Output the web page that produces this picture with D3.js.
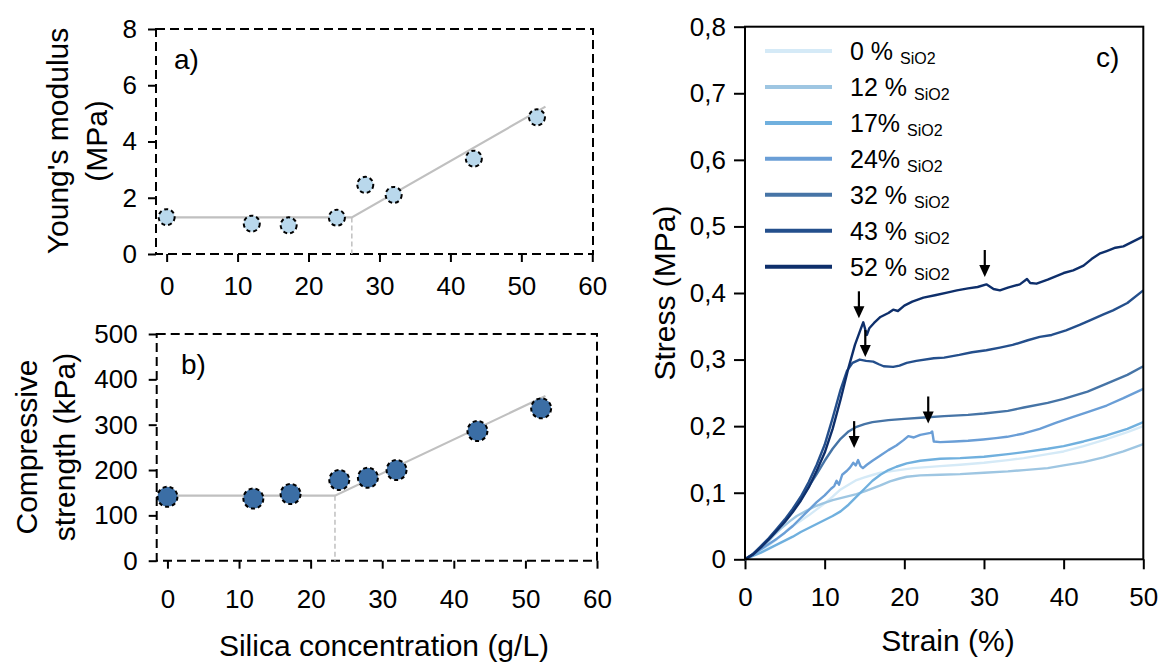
<!DOCTYPE html>
<html>
<head>
<meta charset="utf-8">
<script src="https://cdn.jsdelivr.net/npm/d3@7"></script>
<style>
  html, body { margin: 0; padding: 0; background: #fff; }
  svg text { font-family: "Liberation Sans", Arial, sans-serif; fill: #000; }
</style>
</head>
<body>
<svg id="chart" width="1161" height="662"></svg>
<script>
// ---------- DATA ----------
const silica = [0, 12, 17.2, 24, 28, 32, 43.3, 52.2];
const youngsModulus = [1.31, 1.08, 1.02, 1.29, 2.46, 2.10, 3.39, 4.86];
const compStrength = [141, 137, 147, 178, 183, 200, 286, 336];
const fitA = [[0, 1.30], [26.1, 1.30], [53.4, 5.24]];
const fitB = [[0, 143.5], [23.4, 143.5], [52.8, 363]];
const breakA = 26.1, breakB = 23.4;

const ticksA_y = [0, 2, 4, 6, 8];
const ticksB_y = [0, 100, 200, 300, 400, 500];
const ticksAB_x = [0, 10, 20, 30, 40, 50, 60];
const ticksC_y = [0, 0.1, 0.2, 0.3, 0.4, 0.5, 0.6, 0.7, 0.8];
const ticksC_x = [0, 10, 20, 30, 40, 50];

const seriesNames = ["0 %", "12 %", "17%", "24%", "32 %", "43 %", "52 %"];
const seriesColors = ["#d5eaf7", "#9ec6e2", "#70b0de", "#6a9ed6", "#4674a6", "#244f8c", "#0e2f6b"];

const s0 = [[0,0],[1,0.006],[2,0.013],[3,0.021],[4,0.03],[5,0.04],[5.6,0.047],[7,0.058],[8,0.066],[9,0.075],[10,0.084],[11,0.094],[11.9,0.104],[13,0.112],[14,0.119],[15,0.123],[16.1,0.127],[17,0.13],[18.2,0.132],[20,0.135],[21.1,0.137],[24.5,0.140],[27,0.142],[30,0.145],[33,0.149],[35,0.152],[38,0.158],[40,0.162],[42.5,0.170],[45,0.179],[48,0.191],[50,0.200]];
const s12 = [[0,0],[1,0.007],[2,0.016],[3,0.028],[3.6,0.036],[4.5,0.046],[5.6,0.057],[6.5,0.065],[7.7,0.073],[8.7,0.079],[9.8,0.084],[11,0.089],[12,0.092],[13,0.095],[14,0.098],[15,0.102],[16.1,0.107],[17,0.111],[18.2,0.117],[19.3,0.121],[20.3,0.124],[22,0.126],[24.5,0.127],[27,0.128],[30,0.130],[33,0.132],[35,0.134],[38,0.137],[40,0.141],[42.5,0.146],[45,0.153],[47.5,0.162],[50,0.173]];
const s17 = [[0,0],[1,0.005],[2,0.01],[3,0.016],[4,0.022],[5,0.028],[6,0.034],[7,0.041],[8,0.047],[9,0.053],[10,0.059],[11,0.065],[12,0.072],[13,0.082],[14,0.094],[15,0.106],[16,0.118],[17,0.127],[18,0.134],[19,0.139],[20.3,0.144],[22,0.148],[24.5,0.151],[27,0.152],[30,0.154],[33,0.158],[35,0.161],[38,0.166],[40,0.170],[42.5,0.177],[45.4,0.186],[48,0.196],[50,0.206]];
const s24 = [[0,0],[1,0.007],[2,0.015],[3,0.023],[4,0.031],[5,0.04],[6,0.05],[7,0.062],[8,0.074],[9,0.086],[10,0.096],[10.8,0.106],[11.2,0.110],[11.5,0.118],[11.8,0.112],[12.2,0.127],[12.8,0.133],[13.2,0.138],[13.6,0.145],[13.9,0.141],[14.2,0.149],[14.5,0.140],[14.8,0.137],[15.3,0.142],[16,0.148],[16.9,0.155],[18,0.164],[19,0.171],[19.9,0.179],[20.5,0.185],[21.2,0.183],[22,0.187],[23.3,0.190],[23.5,0.192],[23.7,0.177],[24.5,0.176],[26.3,0.177],[28,0.178],[29.9,0.180],[31.5,0.182],[32.9,0.184],[35,0.189],[37,0.196],[39,0.205],[41.2,0.214],[43,0.221],[45.4,0.231],[47.5,0.242],[50,0.256]];
const s32 = [[0,0],[1,0.008],[2,0.019],[3,0.031],[4,0.044],[5,0.058],[6,0.073],[7,0.09],[8,0.109],[9,0.128],[10,0.148],[11,0.166],[12,0.181],[13,0.192],[14,0.199],[15,0.203],[16,0.206],[18,0.209],[20,0.211],[22.5,0.213],[25,0.215],[28,0.217],[30,0.219],[33,0.223],[35,0.228],[38,0.235],[40,0.241],[43,0.252],[45.4,0.264],[48,0.277],[50,0.290]];
const s43 = [[0,0],[1,0.008],[2,0.02],[3,0.032],[4,0.046],[5,0.06],[6,0.076],[7,0.094],[8,0.116],[9,0.142],[10,0.172],[11,0.212],[12,0.255],[12.8,0.283],[13.5,0.295],[14.4,0.300],[15.2,0.298],[16.1,0.297],[16.8,0.293],[17.4,0.290],[18.6,0.289],[19.4,0.291],[20.3,0.295],[21.5,0.298],[23.7,0.302],[25,0.303],[26.9,0.307],[28.5,0.311],[30.3,0.314],[32,0.318],[33.6,0.322],[35.5,0.329],[37,0.334],[38.5,0.337],[40.3,0.344],[42,0.352],[43.3,0.359],[45,0.368],[46.2,0.374],[48,0.385],[50,0.404]];
const s52 = [[0,0],[1,0.007],[2,0.018],[3,0.03],[4,0.043],[5,0.056],[6,0.071],[7,0.088],[8,0.108],[9,0.133],[10,0.16],[11,0.196],[12,0.24],[13,0.288],[13.8,0.322],[14.5,0.345],[14.85,0.356],[15.1,0.345],[15.3,0.337],[15.6,0.347],[16.2,0.355],[17,0.364],[18,0.370],[18.6,0.375],[19.2,0.373],[20,0.381],[21,0.387],[22.4,0.393],[24,0.397],[25.5,0.401],[26.6,0.404],[28,0.407],[29.2,0.409],[30.3,0.413],[31.2,0.406],[32,0.404],[33,0.408],[34.5,0.413],[35.4,0.421],[35.8,0.415],[36.6,0.414],[38,0.420],[40,0.430],[41.2,0.434],[42.5,0.441],[43.5,0.451],[44.5,0.459],[45.4,0.463],[46.5,0.468],[47.5,0.470],[48.5,0.476],[50,0.485]];
const curves = [s0, s12, s17, s24, s32, s43, s52];

// arrow tips [strain, stress]
const arrowTips = [[14.3, 0.362], [15.1, 0.304], [30.1, 0.424], [23.0, 0.204], [13.7, 0.167]];

// ---------- DRAW ----------
const svg = d3.select("#chart");
const tickFont = 26, titleFont = 30;

function dashedPanel(x, y, xTitleLines, yTitleCfg, label, data, fit, brk, ticksY, fill, r, tickPadX) {
  const g = svg.append("g");
  const [x0, x1] = x.range(), [y0, y1] = y.range();
  // y axis ticks
  const ya = g.append("g").attr("transform", `translate(${x0},0)`)
    .call(d3.axisLeft(y).tickValues(ticksY).tickSize(8).tickPadding(11));
  ya.select(".domain").remove();
  ya.selectAll("line").attr("stroke", "#000").attr("stroke-width", 2);
  ya.selectAll("text").attr("font-size", tickFont).style("font-family", "Liberation Sans, Arial, sans-serif");
  const xa = g.append("g").attr("transform", `translate(0,${y0})`)
    .call(d3.axisBottom(x).tickValues(ticksAB_x).tickSize(8).tickPadding(tickPadX));
  xa.select(".domain").remove();
  xa.selectAll("line").attr("stroke", "#000").attr("stroke-width", 2);
  xa.selectAll("text").attr("font-size", tickFont).style("font-family", "Liberation Sans, Arial, sans-serif");
  // dashed frame
  g.append("rect").attr("x", x0).attr("y", y1).attr("width", x1 - x0).attr("height", y0 - y1)
    .attr("fill", "none").attr("stroke", "#000").attr("stroke-width", 2).attr("stroke-dasharray", "9,5");
  // breakpoint dashed vertical
  g.append("line").attr("x1", x(brk)).attr("x2", x(brk)).attr("y1", y(fit[1][1])).attr("y2", y0)
    .attr("stroke", "#c4c4c4").attr("stroke-width", 1.6).attr("stroke-dasharray", "5,3");
  // fit line
  g.append("path").datum(fit)
    .attr("d", d3.line().x(d => x(d[0])).y(d => y(d[1])))
    .attr("fill", "none").attr("stroke", "#c0c0c0").attr("stroke-width", 2.2);
  // markers
  g.selectAll("circle.m").data(data).join("circle")
    .attr("cx", d => x(d[0])).attr("cy", d => y(d[1])).attr("r", r)
    .attr("fill", fill).attr("stroke", "#000").attr("stroke-width", 2).attr("stroke-dasharray", "4,3");
  // panel label
  g.append("text").attr("x", label.x).attr("y", label.y).attr("font-size", 28).text(label.t);
  // y title
  yTitleCfg.lines.forEach((ln, i) => {
    g.append("text").attr("transform", `translate(${ln.x},${yTitleCfg.cy}) rotate(-90)`)
      .attr("text-anchor", "middle").attr("font-size", titleFont).text(ln.t);
  });
}

// Panel a
const xA = d3.scaleLinear().domain([-1.5, 60.1]).range([156, 593]);
const yA = d3.scaleLinear().domain([0, 8]).range([254, 29]);
dashedPanel(xA, yA, null,
  { cy: 141, lines: [{ t: "Young's modulus", x: 68 }, { t: "(MPa)", x: 107 }] },
  { t: "a)", x: 174, y: 69 },
  silica.map((s, i) => [s, youngsModulus[i]]), fitA, breakA, ticksA_y, "#b9d8ec", 8, 15);

// Panel b
const xB = d3.scaleLinear().domain([-1.5, 60]).range([156.7, 597]);
const yB = d3.scaleLinear().domain([0, 500]).range([560.7, 334]);
dashedPanel(xB, yB, null,
  { cy: 447, lines: [{ t: "Compressive", x: 37 }, { t: "strength (kPa)", x: 75 }] },
  { t: "b)", x: 181, y: 374 },
  silica.map((s, i) => [s, compStrength[i]]), fitB, breakB, ticksB_y, "#3b6ea5", 10, 21);

svg.append("text").attr("x", 384).attr("y", 656).attr("text-anchor", "middle")
  .attr("font-size", titleFont).text("Silica concentration (g/L)");

// Panel c
const xC = d3.scaleLinear().domain([0, 50]).range([745, 1143.3]);
const yC = d3.scaleLinear().domain([0, 0.8]).range([559.3, 26.7]);
const gc = svg.append("g");
const yca = gc.append("g").attr("transform", `translate(745,0)`)
  .call(d3.axisLeft(yC).tickValues(ticksC_y).tickSize(11).tickPadding(8)
    .tickFormat(d => d === 0 ? "0" : d3.format(".1f")(d).replace(".", ",")));
yca.select(".domain").remove();
yca.selectAll("line").attr("stroke", "#000").attr("stroke-width", 2);
yca.selectAll("text").attr("font-size", tickFont).style("font-family", "Liberation Sans, Arial, sans-serif");
const xca = gc.append("g").attr("transform", `translate(0,559.3)`)
  .call(d3.axisBottom(xC).tickValues(ticksC_x).tickSize(10).tickPadding(18));
xca.select(".domain").remove();
xca.selectAll("line").attr("stroke", "#000").attr("stroke-width", 2);
xca.selectAll("text").attr("font-size", tickFont).style("font-family", "Liberation Sans, Arial, sans-serif");

const lineC = d3.line().x(d => xC(d[0])).y(d => yC(d[1]));
curves.forEach((c, i) => {
  gc.append("path").datum(c).attr("d", lineC).attr("fill", "none")
    .attr("stroke", seriesColors[i]).attr("stroke-width", 2.4).attr("stroke-linejoin", "round");
});

gc.append("rect").attr("x", 745).attr("y", 26.7).attr("width", 1143.3 - 745).attr("height", 559.3 - 26.7)
  .attr("fill", "none").attr("stroke", "#000").attr("stroke-width", 2);

// arrows
arrowTips.forEach(t => {
  const ax = xC(t[0]), ay = yC(t[1]);
  gc.append("line").attr("x1", ax).attr("x2", ax).attr("y1", ay - 27).attr("y2", ay - 9)
    .attr("stroke", "#000").attr("stroke-width", 2.2);
  gc.append("path").attr("d", `M${ax - 5.5},${ay - 12} L${ax + 5.5},${ay - 12} L${ax},${ay} Z`).attr("fill", "#000");
});

// legend
const legY = d3.scalePoint().domain(seriesNames).range([51, 266.7]);
seriesNames.forEach((n, i) => {
  const ly = legY(n);
  gc.append("line").attr("x1", 765).attr("x2", 832).attr("y1", ly).attr("y2", ly)
    .attr("stroke", seriesColors[i]).attr("stroke-width", 4);
  const t = gc.append("text").attr("x", 850).attr("y", ly + 9).attr("font-size", 25);
  t.append("tspan").text(n);
  t.append("tspan").attr("dx", 7).attr("dy", 4).attr("font-size", 16).text("SiO2");
});

gc.append("text").attr("x", 1096).attr("y", 67).attr("font-size", 28).text("c)");
gc.append("text").attr("x", 948).attr("y", 651).attr("text-anchor", "middle").attr("font-size", titleFont).text("Strain (%)");
gc.append("text").attr("transform", `translate(675,293) rotate(-90)`).attr("text-anchor", "middle")
  .attr("font-size", titleFont).text("Stress (MPa)");
</script>
</body>
</html>
